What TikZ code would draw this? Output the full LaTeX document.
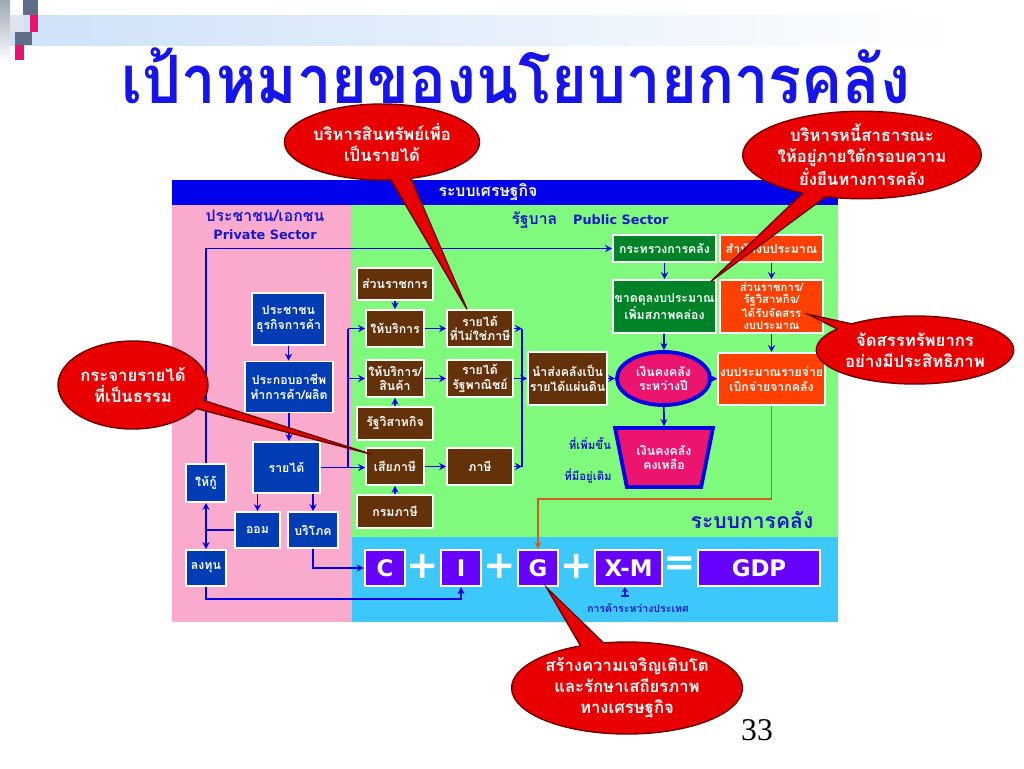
\documentclass[tikz,border=0pt]{standalone}
\usepackage{fontspec}
\setmainfont{Loma}[Script=Thai]
\newfontfamily\latinsf{DejaVu Sans}
\newfontfamily\pagefont{Liberation Serif}
\usetikzlibrary{positioning,calc,arrows.meta,shapes.geometric,shapes.callouts}

\definecolor{titleblue}{RGB}{20,20,235}
\definecolor{headblue}{RGB}{0,0,235}
\definecolor{pinkbg}{RGB}{250,170,205}
\definecolor{greenbg}{RGB}{128,250,125}
\definecolor{cyanbg}{RGB}{60,200,250}
\definecolor{pvblue}{RGB}{0,60,180}
\definecolor{brownbox}{RGB}{100,50,10}
\definecolor{finbox}{RGB}{0,130,40}
\definecolor{budbox}{RGB}{255,64,0}
\definecolor{gdpbox}{RGB}{102,0,255}
\definecolor{cashpink}{RGB}{235,20,110}
\definecolor{arrblue}{RGB}{0,0,230}
\definecolor{lblblue}{RGB}{25,25,200}
\definecolor{orgline}{RGB}{205,95,25}
\definecolor{bubred}{RGB}{232,0,0}
\definecolor{bubdark}{RGB}{110,0,0}
\definecolor{slate}{RGB}{95,110,135}
\definecolor{hotpink}{RGB}{230,20,110}
\definecolor{bandblue}{RGB}{205,225,248}

\begin{document}
\begin{tikzpicture}[x=0.02cm, y=-0.02cm,
  sz/.style 2 args={minimum width=#1*0.02cm, minimum height=#2*0.02cm},
  box/.style={draw=white, line width=0.9pt, text=white, align=center, inner sep=1pt,
              font=\fontsize{7}{8.4}\selectfont\bfseries},
  pbox/.style={box, fill=pvblue},
  gbox/.style={box, fill=brownbox},
  fbox/.style={box, fill=finbox},
  obox/.style={box, fill=budbox},
  gdp/.style={box, fill=gdpbox, line width=1.3pt,
              font=\latinsf\fontsize{13}{14}\selectfont\bfseries},
  op/.style={text=white, font=\latinsf\fontsize{22}{22}\selectfont\bfseries, inner sep=0pt},
  arr/.style={-{Stealth[length=4pt,width=4pt]}, draw=arrblue, line width=1pt},
  wire/.style={draw=arrblue, line width=1pt},
  lbl/.style={text=lblblue, font=\fontsize{6.5}{7.5}\selectfont\bfseries, inner sep=0pt},
  sect/.style={text=lblblue, align=center, font=\fontsize{9}{10.5}\selectfont\bfseries, inner sep=0pt},
  bubble/.style={ellipse callout, fill=bubred, draw=bubdark, line width=0.8pt, text=white,
                 align=center, inner sep=0pt, callout pointer arc=12,
                 font=\fontsize{9.5}{12}\selectfont\bfseries},
]
\useasboundingbox[fill=white] (0,0) rectangle (1024,768);

%% title strip
\shade[left color=bandblue, right color=white] (10,15) rectangle (960,45);
\shade[top color=slate!60, bottom color=white] (0,0) rectangle (10,62);
\fill[slate] (23,0) rectangle (38,15);
\fill[bandblue!70!slate!40] (10,15) rectangle (24,32);
\fill[hotpink] (30,15) rectangle (38,32);
\fill[slate] (15,32) rectangle (32,45);
\fill[hotpink] (15,45) rectangle (24,60);
\node[text=titleblue, inner sep=0pt, font=\fontsize{38}{40}\selectfont\bfseries] (title) at (516,76)
  {\scalebox{0.92}[1]{เป้าหมายของนโยบายการคลัง}};

%% background areas
\fill[headblue] (172,180) rectangle (838,205);
\fill[pinkbg] (172,205) rectangle (352,622);
\fill[greenbg] (352,205) rectangle (838,537);
\fill[cyanbg] (352,537) rectangle (838,622);
\node[text=white, font=\fontsize{9}{10}\selectfont\bfseries] (eco) at (488,192) {ระบบเศรษฐกิจ};
\node[sect] (priv) at (265,225) {ประชาชน/เอกชน\\{\latinsf\fontsize{7.3}{9}\selectfont Private Sector}};
\node[sect] (pub) at (590,220) {รัฐบาล\quad{\latinsf\fontsize{7.3}{9}\selectfont Public Sector}};
\node[text=lblblue, font=\fontsize{12}{13}\selectfont\bfseries] (fisc) at (752,520) {ระบบการคลัง};

%% private sector
\node[pbox, sz={73}{52}] (ppl)  at (288.5,319) {ประชาชน\\ธุรกิจการค้า};
\node[pbox, sz={88}{51}] (job)  at (289,387)   {ประกอบอาชีพ\\ทำการค้า/ผลิต};
\node[pbox, sz={67}{51}] (inc)  at (286.5,467.5) {รายได้};
\node[pbox, sz={40}{38}] (loan) at (206,483)   {ให้กู้};
\node[pbox, sz={45}{36}] (save) at (257.5,530) {ออม};
\node[pbox, sz={50}{36}] (cons) at (313,530)   {บริโภค};
\node[pbox, sz={40}{36}] (inv)  at (206,568)   {ลงทุน};

%% government
\node[gbox, sz={76}{32}] (dept)  at (395,284)   {ส่วนราชการ};
\node[gbox, sz={58}{37}] (svc)   at (395,328.5) {ให้บริการ};
\node[gbox, sz={66}{37}] (ntax)  at (480,328.5) {รายได้\\ที่ไม่ใช่ภาษี};
\node[gbox, sz={58}{37}] (goods) at (395,378.5) {ให้บริการ/\\สินค้า};
\node[gbox, sz={66}{37}] (soe)   at (480,378.5) {รายได้\\รัฐพาณิชย์};
\node[gbox, sz={76}{33}] (sent)  at (395,423.5) {รัฐวิสาหกิจ};
\node[gbox, sz={58}{37}] (pay)   at (395,466.5) {เสียภาษี};
\node[gbox, sz={66}{37}] (tax)   at (480,466.5) {ภาษี};
\node[gbox, sz={76}{33}] (rd)    at (395,511.5) {กรมภาษี};
\node[gbox, sz={71}{53}] (remit) at (567.5,378.5) {นำส่งคลังเป็น\\รายได้แผ่นดิน};

%% treasury side
\node[fbox, sz={103}{27}] (mof)   at (664.5,248.5) {กระทรวงการคลัง};
\node[obox, sz={103}{27}] (bb)    at (771.5,248.5) {สำนักงบประมาณ};
\node[fbox, sz={103}{53}] (def)   at (664.5,306.5) {ขาดดุลงบประมาณ\\เพิ่มสภาพคล่อง};
\node[obox, sz={103}{53}, font=\fontsize{6.4}{6.8}\selectfont\bfseries] (agy) at (771.5,306.5)
  {ส่วนราชการ/\\รัฐวิสาหกิจ/\\ได้รับจัดสรร\\งบประมาณ};
\node[obox, sz={103}{52}] (spend) at (771.5,379) {งบประมาณรายจ่าย\\เบิกจ่ายจากคลัง};
\node[box, ellipse, fill=cashpink, draw=arrblue, line width=2.2pt, sz={93}{53}] (tcb)
  at (663.5,378.5) {เงินคงคลัง\\ระหว่างปี};
\node[box, trapezium, shape border rotate=180, trapezium stretches=true,
      trapezium left angle=72, trapezium right angle=72,
      fill=cashpink, draw=arrblue, line width=2.2pt, sz={98}{59}] (rest)
  at (664,457.5) {เงินคงคลัง\\คงเหลือ};
\node[lbl] (incr) at (590,443) {ที่เพิ่มขึ้น};
\node[lbl] (orig) at (588,476) {ที่มีอยู่เดิม};

%% GDP identity
\node[gdp, sz={40}{36}]  (C)   at (385,568)   {C};
\node[gdp, sz={40}{36}]  (I)   at (461,568)   {I};
\node[gdp, sz={40}{36}]  (G)   at (538,568)   {G};
\node[gdp, sz={67}{36}]  (XM)  at (628.5,568) {X-M};
\node[gdp, sz={122}{36}] (GDP) at (759,568)   {GDP};
\node[op] (p1) at (423,566) {+};
\node[op] (p2) at (500,566) {+};
\node[op] (p3) at (577,566) {+};
\node[op] (eq) at (680,566) {=};
\node[lbl, font=\fontsize{6}{7}\selectfont\bfseries] (trade) at (638,608) {การค้าระหว่างประเทศ};

%% private flows
\coordinate (busL) at (348,0);
\coordinate (tradeup) at (625,597);
\draw[arr] (ppl.south) -- (ppl.south |- job.north);
\draw[arr] (job.south) -- (job.south |- inc.north);
\draw[arr] (inc.south -| save) -- (save.north);
\draw[arr] (inc.south -| cons) -- (cons.north);
\draw[arr] (inc.east) -- (inc.east -| pay.west);
\draw[wire] (svc.west -| busL) -- (inc.east -| busL);
\draw[arr] (svc.west -| busL) -- (svc.west);
\draw[arr] (goods.west -| busL) -- (goods.west);
\draw[wire] (save.west) -- (save.west -| loan);
\draw[arr] (save.west -| loan) -- (loan.south);
\draw[arr] (save.west -| loan) -- (inv.north);
\draw[arr] (loan.north) |- (mof.west);
\draw[arr] (inv.south) -- ++(0,12) -| (I.south);
\draw[arr] (cons.south) |- (C.west);

%% government flows
\coordinate (busR) at (522,0);
\draw[arr] (dept) -- (svc);
\draw[arr] (sent) -- (goods);
\draw[arr] (rd) -- (pay);
\draw[arr] (svc) -- (ntax);
\draw[arr] (goods) -- (soe);
\draw[arr] (pay) -- (tax);
\draw[wire] (ntax.east -| busR) -- (tax.east -| busR);
\draw[arr] (ntax.east) -- (ntax.east -| busR);
\draw[arr] (tax.east) -- (tax.east -| busR);
\draw[arr] (soe) -- (remit);
\draw[arr] (remit) -- (tcb);
\draw[arr] (mof) -- (def);
\draw[arr] (def) -- (tcb);
\draw[arr] (bb) -- (agy);
\draw[arr] (agy) -- (spend);
\draw[arr] (tcb) -- (spend);
\draw[arr] (tcb) -- (rest.north);
\draw[-{Stealth[length=4pt,width=4pt]}, draw=orgline, line width=1pt]
  (spend.south) -- ++(0,93) -| (G.north);
\draw[{Bar[width=5pt]}-{Stealth[length=3pt,width=4pt]}, draw=lblblue, line width=0.9pt]
  (tradeup) -- (tradeup |- XM.south);

%% callouts
\node[bubble, sz={160}{76}, callout absolute pointer={($(ntax.north)+(-13,0)$)}] (cb1)
  at (382,142) {บริหารสินทรัพย์เพื่อ\\เป็นรายได้};
\node[bubble, sz={200}{80}, callout absolute pointer={($(def.north east)+(-6,2)$)}] (cb2)
  at (862,155) {บริหารหนี้สาธารณะ\\ให้อยู่ภายใต้กรอบความ\\ยั่งยืนทางการคลัง};
\node[bubble, sz={180}{68}, callout absolute pointer={($(agy.east)+(-15,8)$)}] (cb3)
  at (915,350) {จัดสรรทรัพยากร\\อย่างมีประสิทธิภาพ};
\node[bubble, sz={150}{88}, callout absolute pointer={($(pay.north west)+(6,7)$)}] (cb4)
  at (133,385) {กระจายรายได้\\ที่เป็นธรรม};
\node[bubble, sz={212}{92}, callout absolute pointer={($(G.south)+(9,1)$)}] (cb5)
  at (627,688) {สร้างความเจริญเติบโต\\และรักษาเสถียรภาพ\\ทางเศรษฐกิจ};

\node[font=\pagefont\fontsize{18}{20}\selectfont] (pgno) at (757,730) {33};
\end{tikzpicture}
\end{document}
